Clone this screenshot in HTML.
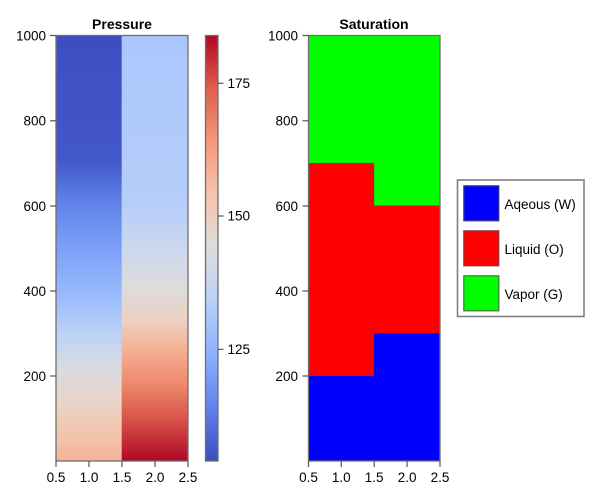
<!DOCTYPE html>
<html><head><meta charset="utf-8"><style>
html,body{margin:0;padding:0;background:#fff;}
svg{display:block;}
text{font-family:"Liberation Sans",Arial,sans-serif;fill:#000;}
</style></head><body>
<svg width="600" height="500" viewBox="0 0 600 500" xmlns="http://www.w3.org/2000/svg">
<defs>
<linearGradient id="gl" x1="0" y1="0" x2="0" y2="1">
<stop offset="0" stop-color="#3c4ec2"/>
<stop offset="0.295" stop-color="#4358cb"/>
<stop offset="0.389" stop-color="#5f80e6"/>
<stop offset="0.497" stop-color="#7b9ff9"/>
<stop offset="0.624" stop-color="#9dbdfc"/>
<stop offset="0.701" stop-color="#bcd1f6"/>
<stop offset="0.779" stop-color="#d8dbe2"/>
<stop offset="0.859" stop-color="#e9d5c9"/>
<stop offset="0.937" stop-color="#f3c4ac"/>
<stop offset="1" stop-color="#f5b497"/>
</linearGradient>
<linearGradient id="gr" x1="0" y1="0" x2="0" y2="1">
<stop offset="0" stop-color="#aac7fd"/>
<stop offset="0.389" stop-color="#b5cdfa"/>
<stop offset="0.497" stop-color="#c9d7f0"/>
<stop offset="0.591" stop-color="#dddcdc"/>
<stop offset="0.67" stop-color="#ecd0c1"/>
<stop offset="0.739" stop-color="#f5b093"/>
<stop offset="0.817" stop-color="#ee8a6e"/>
<stop offset="0.897" stop-color="#d9574a"/>
<stop offset="0.974" stop-color="#bb1b30"/>
<stop offset="1" stop-color="#b40426"/>
</linearGradient>
<linearGradient id="cb" x1="0" y1="1" x2="0" y2="0">
<stop offset="0" stop-color="#3b4cc0"/>
<stop offset="0.125" stop-color="#6282ea"/>
<stop offset="0.25" stop-color="#8db0fe"/>
<stop offset="0.375" stop-color="#b8d0f9"/>
<stop offset="0.5" stop-color="#dddcdc"/>
<stop offset="0.625" stop-color="#f5c4ac"/>
<stop offset="0.75" stop-color="#f4987a"/>
<stop offset="0.875" stop-color="#de604d"/>
<stop offset="1" stop-color="#b40426"/>
</linearGradient>
</defs>

<!-- Pressure plot -->
<text x="122" y="29" font-size="14" font-weight="bold" text-anchor="middle">Pressure</text>
<rect x="56" y="35.5" width="66" height="425.5" fill="url(#gl)"/>
<rect x="121.7" y="35.5" width="66.3" height="425.5" fill="url(#gr)"/>
<rect x="56" y="35.5" width="132" height="425.5" fill="none" stroke="#6e6e6e" stroke-width="1.3"/>
<g stroke="#555" stroke-width="1.2">
<line x1="50" y1="35.5" x2="56" y2="35.5"/>
<line x1="50" y1="120.8" x2="56" y2="120.8"/>
<line x1="50" y1="206" x2="56" y2="206"/>
<line x1="50" y1="291" x2="56" y2="291"/>
<line x1="50" y1="376" x2="56" y2="376"/>
<line x1="56" y1="461" x2="56" y2="467"/>
<line x1="89" y1="461" x2="89" y2="467"/>
<line x1="122" y1="461" x2="122" y2="467"/>
<line x1="155" y1="461" x2="155" y2="467"/>
<line x1="188" y1="461" x2="188" y2="467"/>
</g>
<g font-size="13.5" text-anchor="end">
<text x="46" y="40.3">1000</text>
<text x="46" y="125.6">800</text>
<text x="46" y="210.8">600</text>
<text x="46" y="295.8">400</text>
<text x="46" y="380.8">200</text>
</g>
<g font-size="13.5" text-anchor="middle">
<text x="56" y="482">0.5</text>
<text x="89" y="482">1.0</text>
<text x="122" y="482">1.5</text>
<text x="155" y="482">2.0</text>
<text x="188" y="482">2.5</text>
</g>

<!-- Colorbar -->
<rect x="205.5" y="35.5" width="12.5" height="425.5" fill="url(#cb)" stroke="#6e6e6e" stroke-width="1.3"/>
<g stroke="#555" stroke-width="1.2">
<line x1="218" y1="83.3" x2="223.5" y2="83.3"/>
<line x1="218" y1="216" x2="223.5" y2="216"/>
<line x1="218" y1="349.3" x2="223.5" y2="349.3"/>
</g>
<g font-size="13.5">
<text x="227.5" y="88">175</text>
<text x="227.5" y="220.7">150</text>
<text x="227.5" y="354">125</text>
</g>

<!-- Saturation plot -->
<text x="374" y="29" font-size="14" font-weight="bold" text-anchor="middle">Saturation</text>
<rect x="308.5" y="35.5" width="131.5" height="425.5" fill="#00ff00"/>
<polygon points="308.5,163.1 374,163.1 374,205.7 440,205.7 440,333.3 374,333.3 374,375.9 308.5,375.9" fill="#ff0000"/>
<polygon points="308.5,375.9 374,375.9 374,333.3 440,333.3 440,461 308.5,461" fill="#0000ff"/>
<g stroke="rgba(60,60,60,0.35)" stroke-width="0.8" fill="none">
<polyline points="308.5,163.1 374,163.1 374,205.7 440,205.7"/>
<polyline points="308.5,375.9 374,375.9 374,333.3 440,333.3"/>
</g>
<rect x="308.5" y="35.5" width="131.5" height="425.5" fill="none" stroke="#6e6e6e" stroke-width="1.3"/>
<g stroke="#555" stroke-width="1.2">
<line x1="302.5" y1="35.5" x2="308.5" y2="35.5"/>
<line x1="302.5" y1="120.8" x2="308.5" y2="120.8"/>
<line x1="302.5" y1="206" x2="308.5" y2="206"/>
<line x1="302.5" y1="291" x2="308.5" y2="291"/>
<line x1="302.5" y1="376" x2="308.5" y2="376"/>
<line x1="308.5" y1="461" x2="308.5" y2="467"/>
<line x1="341.3" y1="461" x2="341.3" y2="467"/>
<line x1="374.2" y1="461" x2="374.2" y2="467"/>
<line x1="407.1" y1="461" x2="407.1" y2="467"/>
<line x1="440" y1="461" x2="440" y2="467"/>
</g>
<g font-size="13.5" text-anchor="end">
<text x="298" y="40.3">1000</text>
<text x="298" y="125.6">800</text>
<text x="298" y="210.8">600</text>
<text x="298" y="295.8">400</text>
<text x="298" y="380.8">200</text>
</g>
<g font-size="13.5" text-anchor="middle">
<text x="308.5" y="482">0.5</text>
<text x="341.3" y="482">1.0</text>
<text x="374.2" y="482">1.5</text>
<text x="407.1" y="482">2.0</text>
<text x="440" y="482">2.5</text>
</g>

<!-- Legend -->
<rect x="457.5" y="180" width="126.5" height="136.5" fill="#fff" stroke="#808080" stroke-width="1.6"/>
<rect x="463.8" y="185.8" width="35" height="35" fill="#0000ff" stroke="#3a3a8a" stroke-width="1.2"/>
<rect x="463.8" y="230.8" width="35" height="35" fill="#ff0000" stroke="#8a3a3a" stroke-width="1.2"/>
<rect x="463.8" y="275.8" width="35" height="35" fill="#00ff00" stroke="#3a7a3a" stroke-width="1.2"/>
<g font-size="13.5">
<text x="504.5" y="209">Aqeous (W)</text>
<text x="504.5" y="254">Liquid (O)</text>
<text x="504.5" y="299">Vapor (G)</text>
</g>
</svg>
</body></html>
